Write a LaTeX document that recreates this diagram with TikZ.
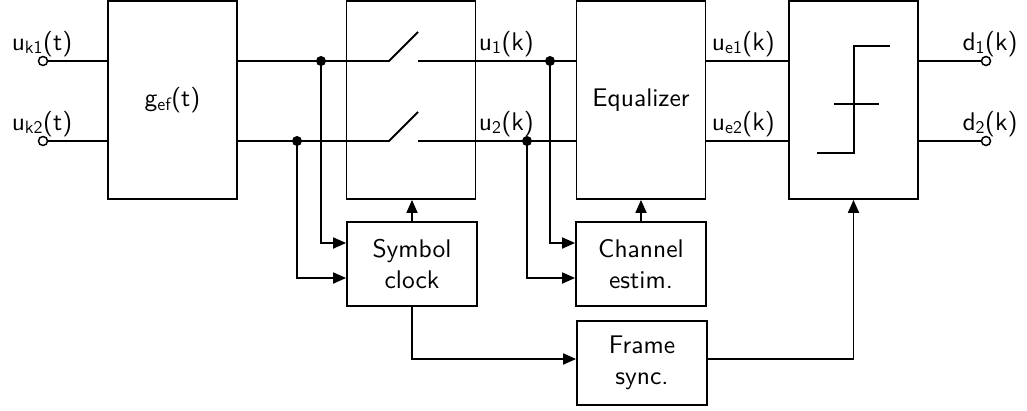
\documentclass[tikz,border=0pt]{standalone}
\usepackage{amsmath}
\usepackage{fontspec}
\setsansfont{lmsans10-regular}[Extension=.otf]
\usetikzlibrary{arrows.meta}
\renewcommand\familydefault{\sfdefault}
\newcommand\sbs[1]{$_\text{#1}$}
\begin{document}
\begin{tikzpicture}[x=1pt,y=-1pt,line width=1.8pt,
  font=\fontsize{25.5}{31}\selectfont,
  box/.style={draw,rectangle,inner sep=0pt,align=center},
  big/.style={box,minimum width=129pt,minimum height=198pt},
  small/.style={box,minimum width=130pt,minimum height=84pt},
  lbl/.style={inner sep=0pt},
  dot/.style={circle,fill,inner sep=0pt,minimum size=10pt},
  port/.style={circle,draw,fill=white,inner sep=0pt,minimum size=9pt,line width=1.5pt},
  arr/.style={-{Triangle[length=13pt,width=11pt]}}]
\useasboundingbox (0,0) rectangle (1027,410);

% main blocks
\node[big] (g)   at (172.5,100) {g\sbs{ef}(t)};
\node[big] (sw)  at (411,100) {};
\node[big] (eq)  at (641,100) {Equalizer};
\node[big] (dec) at (853.5,100) {};
\node[small] (sc) at (412,264) {Symbol\\clock};
\node[small] (ce) at (641,264) {Channel\\estim.};
\node[small] (fs) at (642,363) {Frame\\sync.};

% port positions
\coordinate (in1) at (43,61);
\coordinate (in2) at (43,141);
\coordinate (out1) at (986,61);
\coordinate (out2) at (986,141);

% wires
\draw (in1) -- (in1 -| g.west);
\draw (in2) -- (in2 -| g.west);
\draw (in1 -| g.east) -- (389,61) -- (418,32);
\draw (in2 -| g.east) -- (389,141) -- (418,112);
\draw (418,61) -- (in1 -| eq.west);
\draw (418,141) -- (in2 -| eq.west);
\draw (in1 -| eq.east) -- (in1 -| dec.west);
\draw (in2 -| eq.east) -- (in2 -| dec.west);
\draw (in1 -| dec.east) -- (out1);
\draw (in2 -| dec.east) -- (out2);

% decision characteristic
\draw (817,153) -- (854,153) -- (854,46) -- (890,46);
\draw (834,104) -- (879,104);

% junctions
\node[dot] (j1) at (321,61) {};
\node[dot] (j2) at (297,141) {};
\node[dot] (j3) at (550,61) {};
\node[dot] (j4) at (527,141) {};

% control paths
\draw[arr] (j1.center) |- ([yshift=21pt]sc.west);
\draw[arr] (j2.center) |- ([yshift=-14pt]sc.west);
\draw[arr] (j3.center) |- ([yshift=21pt]ce.west);
\draw[arr] (j4.center) |- ([yshift=-14pt]ce.west);
\draw[arr] (sc.north) -- (sc.north |- sw.south);
\draw[arr] (ce.north) -- (ce.north |- eq.south);
\draw[arr] (sc.south) |- ([yshift=4pt]fs.west);
\draw[arr] ([yshift=4pt]fs.east) -| (dec.south);

% port circles
\node[port] (p1) at (in1) {};
\node[port] (p2) at (in2) {};
\node[port] (p3) at (out1) {};
\node[port] (p4) at (out2) {};

% labels
\node[lbl,anchor=base] (l1) at (42,50) {u\sbs{k1}(t)};
\node[lbl,anchor=base] (l2) at (42,130) {u\sbs{k2}(t)};
\node[lbl,anchor=base west] (l3) at (478,50) {u\sbs{1}(k)};
\node[lbl,anchor=base west] (l4) at (478,130) {u\sbs{2}(k)};
\node[lbl,anchor=base west] (l5) at (711,50) {u\sbs{e1}(k)};
\node[lbl,anchor=base west] (l6) at (711,130) {u\sbs{e2}(k)};
\node[lbl,anchor=base] (l7) at (990,50) {d\sbs{1}(k)};
\node[lbl,anchor=base] (l8) at (990,130) {d\sbs{2}(k)};
\end{tikzpicture}
\end{document}
